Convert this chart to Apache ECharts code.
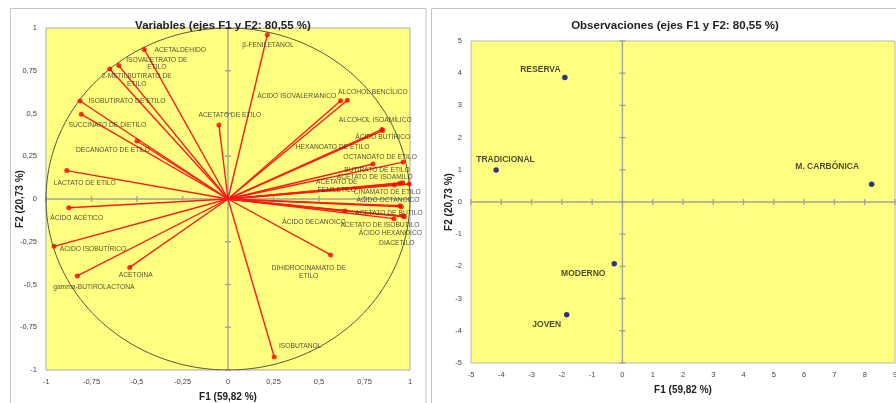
<!DOCTYPE html>
<html>
<head>
<meta charset="utf-8">
<script src="https://cdn.jsdelivr.net/npm/echarts@6/dist/echarts.min.js"></script>
<style>
  html, body { margin: 0; padding: 0; background: #ffffff; }
  #chart { width: 896px; height: 403px; }
</style>
</head>
<body>
<div id="chart"></div>
<script>
// Variables: loadings on F1 / F2
const varNames = [
  'ACETALDEHIDO', 'ISOVALETRATO DE\nETILO', '2-METILBUTIRATO DE\nETILO', 'ISOBUTIRATO DE ETILO',
  'SUCCINATO DE DIETILO', 'ACETATO DE ETILO', 'DECANOATO DE ETILO', 'LACTATO DE ETILO',
  'ÁCIDO ACÉTICO', 'ÁCIDO ISOBUTÍRICO', 'gamma-BUTIROLACTONA', 'ACETOINA',
  'β-FENILETANOL', 'ÁCIDO ISOVALERIANICO', 'ALCOHOL BENCÍLICO', 'ALCOHOL ISOAMÍLICO',
  'ÁCIDO BUTÍRICO', 'HEXANOATO DE ETILO', 'OCTANOATO DE ETILO', 'BUTIRATO DE ETILO',
  'ACETATO DE ISOAMILO', 'ACETATO DE\nFENILETILO', 'CINAMATO DE ETILO', 'ÁCIDO OCTANOICO',
  'ACETATO DE BUTILO', 'ÁCIDO DECANOICO', 'ACETATO DE ISOBUTILO', 'ÁCIDO HEXANOICO',
  'DIACETILO', 'DIHIDROCINAMATO DE\nETILO', 'ISOBUTANOL'
];
const varF1 = [
  -0.46, -0.60, -0.65, -0.813,
  -0.806, -0.05, -0.50, -0.886,
  -0.875, -0.956, -0.828, -0.54,
  0.216, 0.619, 0.656, 0.846,
  0.85, 0.797, 0.962, 0.945,
  0.96, 0.914, 0.996, 0.945,
  0.952, 0.643, 0.912, 0.969,
  0.96, 0.564, 0.254
];
const varF2 = [
  0.875, 0.78, 0.76, 0.573,
  0.495, 0.433, 0.339, 0.166,
  -0.051, -0.277, -0.45, -0.40,
  0.96, 0.575, 0.577, 0.407,
  0.40, 0.205, 0.216, 0.092,
  0.095, 0.082, 0.088, -0.039,
  -0.045, -0.070, -0.115, -0.104,
  -0.10, -0.327, -0.924
];

// Observations: factor scores on F1 / F2
const obsNames = ['RESERVA', 'TRADICIONAL', 'MODERNO', 'JOVEN', 'M. CARBÓNICA'];
const obsF1 = [-1.90, -4.17, -0.27, -1.84, 8.23];
const obsF2 = [3.87, 0.99, -1.92, -3.50, 0.55];

// Axis ticks
const varTicks = [-1, -0.75, -0.5, -0.25, 0, 0.25, 0.5, 0.75, 1];
const obsXTicks = [-5, -4, -3, -2, -1, 0, 1, 2, 3, 4, 5, 6, 7, 8, 9];
const obsYTicks = [-5, -4, -3, -2, -1, 0, 1, 2, 3, 4, 5];

// Label placement (pixel offset of each label centre from its point)
const varLabelOffsets = [
  [36, 1], [38, -2], [27, 11], [47, 0],
  [26, 11], [11, -10], [-24, 9], [18, 12.6],
  [8, 10], [39, 2.4], [16.5, 11.3], [6, 8],
  [0.7, 10], [-44, -4.4], [25.5, -8.6], [-6.7, -9],
  [0, 7], [-40.5, -16.4], [-23, -5], [-23, -13],
  [-28, -6], [-57.6, 1.3], [-22, 8], [-12, -5.7],
  [-12.5, 6.3], [-31, 11], [-14, 6.3], [-14, 16],
  [-6, 26.6], [-22, 17], [26, -11]
];
const obsLabelOffsets = [[-24.5, -8], [9.4, -10], [-31, 10], [-20, 10], [-44.5, -17.6]];

const FONT = '"Liberation Sans", Arial, sans-serif';
const PLOT_BG = '#FFFF80';
const comma = v => String(v).replace('.', ',');

// Unit circle of the correlation plot
const circle = [];
for (let i = 0; i <= 360; i += 2) {
  const a = i * Math.PI / 180;
  circle.push([Math.cos(a), Math.sin(a)]);
}

// Axis lines through the origin with crossing tick marks
function zeroAxes(xi, yi, xTicks, yTicks) {
  return {
    type: 'custom', xAxisIndex: xi, yAxisIndex: yi, silent: true, z: 1,
    data: [[0, 0]],
    renderItem: function (params, api) {
      const st = { stroke: '#a4a49a', lineWidth: 1.4 };
      const kids = [];
      const a = api.coord([xTicks[0], 0]), b = api.coord([xTicks[xTicks.length - 1], 0]);
      kids.push({ type: 'line', shape: { x1: a[0], y1: a[1], x2: b[0], y2: b[1] }, style: st });
      const c = api.coord([0, yTicks[0]]), d = api.coord([0, yTicks[yTicks.length - 1]]);
      kids.push({ type: 'line', shape: { x1: c[0], y1: c[1], x2: d[0], y2: d[1] }, style: st });
      xTicks.forEach(t => {
        const p = api.coord([t, 0]);
        kids.push({ type: 'line', shape: { x1: p[0], y1: p[1] - 3, x2: p[0], y2: p[1] + 3 }, style: st });
      });
      yTicks.forEach(t => {
        const p = api.coord([0, t]);
        kids.push({ type: 'line', shape: { x1: p[0] - 3, y1: p[1], x2: p[0] + 3, y2: p[1] }, style: st });
      });
      return { type: 'group', children: kids };
    }
  };
}

function valueAxis(grid, min, max, interval, name, nameGap, isY) {
  return {
    type: 'value', gridIndex: grid, min: min, max: max, interval: interval,
    name: name, nameLocation: 'middle', nameGap: nameGap, nameMoveOverlap: false,
    nameTextStyle: { fontFamily: FONT, fontSize: 10, fontWeight: 'bold', color: '#222' },
    axisLine: { show: false, onZero: false },
    axisTick: { show: false },
    splitLine: { show: false },
    axisLabel: { fontFamily: FONT, fontSize: 7.5, color: '#444', margin: isY ? 9 : 8, formatter: comma }
  };
}

const chart = echarts.init(document.getElementById('chart'), null, { renderer: 'canvas' });

const option = {
  backgroundColor: '#ffffff',
  animation: false,
  graphic: [
    { type: 'rect', shape: { x: 10.5, y: 8.5, width: 415.5, height: 400 }, style: { fill: 'none', stroke: '#c4c4c4', lineWidth: 1 }, z: -1 },
    { type: 'rect', shape: { x: 431.5, y: 8.5, width: 470, height: 400 }, style: { fill: 'none', stroke: '#c4c4c4', lineWidth: 1 }, z: -1 }
  ],
  title: [
    { text: 'Variables (ejes F1 y F2: 80,55 %)', left: 218, top: 15, textAlign: 'center',
      textStyle: { fontFamily: FONT, fontSize: 11.5, fontWeight: 'bold', color: '#222' } },
    { text: 'Observaciones (ejes F1 y F2: 80,55 %)', left: 670, top: 15, textAlign: 'center',
      textStyle: { fontFamily: FONT, fontSize: 11.5, fontWeight: 'bold', color: '#222' } }
  ],
  grid: [
    { left: 46, top: 28, width: 364, height: 342, show: true, outerBoundsMode: 'none',
      backgroundColor: PLOT_BG, borderColor: '#a8a8a8', borderWidth: 1 },
    { left: 471, top: 41, width: 424, height: 322, show: true, outerBoundsMode: 'none',
      backgroundColor: PLOT_BG, borderColor: '#b8b8b8', borderWidth: 1 }
  ],
  xAxis: [
    valueAxis(0, -1, 1, 0.25, 'F1 (59,82 %)', 22, false),
    valueAxis(1, -5, 9, 1, 'F1 (59,82 %)', 22, false)
  ],
  yAxis: [
    valueAxis(0, -1, 1, 0.25, 'F2 (20,73 %)', 21, true),
    valueAxis(1, -5, 5, 1, 'F2 (20,73 %)', 17, true)
  ],
  series: [
    zeroAxes(0, 0, varTicks, varTicks),
    zeroAxes(1, 1, obsXTicks, obsYTicks),
    {
      type: 'line', xAxisIndex: 0, yAxisIndex: 0, data: circle, showSymbol: false, silent: true,
      lineStyle: { color: '#555548', width: 1 }, z: 2
    },
    {
      type: 'lines', coordinateSystem: 'cartesian2d', xAxisIndex: 0, yAxisIndex: 0, silent: true,
      lineStyle: { color: '#ff1a1a', width: 1.4, opacity: 1 }, z: 3,
      data: varNames.map((n, i) => ({ coords: [[0, 0], [varF1[i], varF2[i]]] }))
    },
    {
      type: 'scatter', xAxisIndex: 0, yAxisIndex: 0, symbolSize: 5, z: 4,
      itemStyle: { color: '#ff0000' },
      label: {
        show: true, position: 'inside', align: 'center', verticalAlign: 'middle',
        fontFamily: FONT, fontSize: 6.7, lineHeight: 7.5, color: '#262626', formatter: p => p.name
      },
      data: varNames.map((n, i) => ({
        name: n, value: [varF1[i], varF2[i]],
        label: { offset: varLabelOffsets[i] }
      }))
    },
    {
      type: 'scatter', xAxisIndex: 1, yAxisIndex: 1, symbolSize: 5.5, z: 4,
      itemStyle: { color: '#00007a' },
      label: {
        show: true, position: 'inside', align: 'center', verticalAlign: 'middle',
        fontFamily: FONT, fontSize: 8.5, fontWeight: 'bold', color: '#1a1a1a', formatter: p => p.name
      },
      data: obsNames.map((n, i) => ({
        name: n, value: [obsF1[i], obsF2[i]],
        label: { offset: obsLabelOffsets[i] }
      }))
    }
  ]
};

chart.setOption(option);
</script>
</body>
</html>
